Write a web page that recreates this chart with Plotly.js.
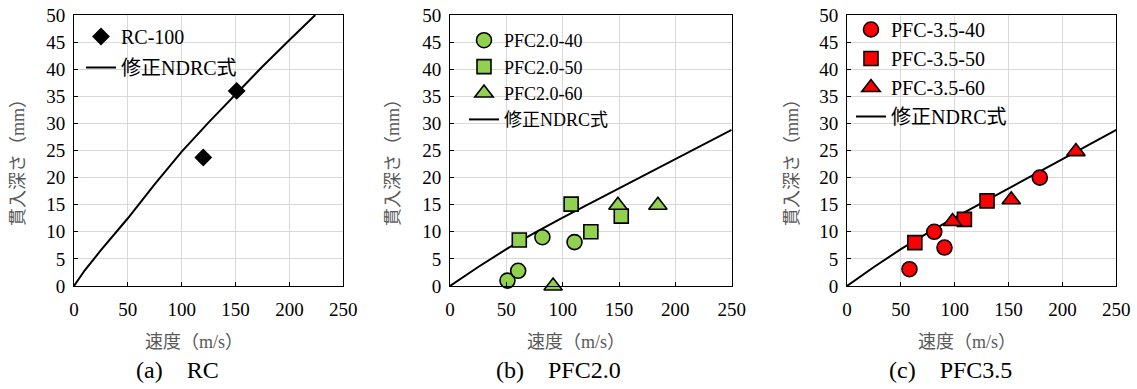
<!DOCTYPE html>
<html>
<head>
<meta charset="utf-8">
<script src="https://cdn.plot.ly/plotly-3.0.1.min.js"></script>
<style>html,body{margin:0;padding:0;background:#fff;}#chart{width:1137px;height:389px;}</style>
</head>
<body>
<div id="chart"></div>
<script>
// ---- data ----
// Panel (a) RC
var rc100_v = [120, 151];
var rc100_d = [23.7, 36.0];
var ndrcA_v = [0, 10, 25, 50, 75, 100, 125, 150, 175, 200, 224];
var ndrcA_d = [0, 2.9, 6.6, 12.5, 18.8, 24.8, 30.2, 35.3, 40.5, 45.4, 50];

// Panel (b) PFC2.0
var pfc20_40_v = [51, 60.5, 82, 110.5];
var pfc20_40_d = [1.0, 2.8, 9.0, 8.1];
var pfc20_50_v = [61.5, 107.5, 125, 152];
var pfc20_50_d = [8.5, 15.1, 10.0, 12.9];
var pfc20_60_v = [91.5, 149, 184.5];
var pfc20_60_d = [0, 14.9, 14.9];

// Panel (c) PFC3.5
var pfc35_40_v = [58, 81, 90.5, 179];
var pfc35_40_d = [3.1, 10.0, 7.1, 20.0];
var pfc35_50_v = [63, 109, 130];
var pfc35_50_d = [8.0, 12.3, 15.7];
var pfc35_60_v = [98, 152.5, 212.5];
var pfc35_60_d = [11.9, 15.9, 24.8];

// modified NDRC curve for PFC panels
var ndrcP_v = [0, 25, 50, 75, 100, 125, 150, 175, 200, 225, 250];
var ndrcP_d = [0, 3.5, 6.8, 9.8, 12.6, 15.3, 18.0, 20.7, 23.4, 26.1, 28.8];

var xTicks = [0, 50, 100, 150, 200, 250];
var yTicks = [0, 5, 10, 15, 20, 25, 30, 35, 40, 45, 50];
var lineName = '修正NDRC式';
var xTitle = '速度（m/s）';
var yTitle = '貫入深さ（mm）';
var captions = ['(a)\u3000RC', '(b)\u3000PFC2.0', '(c)\u3000PFC3.5'];

// ---- styling ----
var W = 1137, H = 389;
var FONT = "Liberation Serif, Noto Sans CJK JP, serif";
var green = '#92D050', red = '#FF0000';
var plotTop = 15, plotBot = 286;
var px = [[74, 343.3], [450, 731.7], [847, 1116.3]];

function xd(p) { return [p[0] / W, p[1] / W]; }
var yDom = [1 - plotBot / H, 1 - plotTop / H];

function mk(x, y, name, sym, size, color, xa, ya, leg, grp, rank) {
  return {
    x: x, y: y, name: name, type: 'scatter', mode: 'markers',
    xaxis: xa, yaxis: ya, legend: leg, legendgroup: grp, legendrank: rank, cliponaxis: false,
    marker: {symbol: sym, size: size, color: color, line: {color: '#000', width: 1.6}}
  };
}
function ln(x, y, xa, ya, leg, grp, rank) {
  return {
    x: x, y: y, name: lineName, type: 'scatter', mode: 'lines',
    xaxis: xa, yaxis: ya, legend: leg, legendgroup: grp, legendrank: rank,
    line: {color: '#000', width: 2}
  };
}

var traces = [
  mk(rc100_v, rc100_d, 'RC-100', 'diamond', 12, '#000', 'x', 'y', 'legend', 'a1', 1),
  ln(ndrcA_v, ndrcA_d, 'x', 'y', 'legend', 'a2', 2),

  ln(ndrcP_v, ndrcP_d, 'x2', 'y2', 'legend2', 'b4', 4),
  mk(pfc20_40_v, pfc20_40_d, 'PFC2.0-40', 'circle', 15, green, 'x2', 'y2', 'legend2', 'b1', 1),
  mk(pfc20_50_v, pfc20_50_d, 'PFC2.0-50', 'square', 14, green, 'x2', 'y2', 'legend2', 'b2', 2),
  mk(pfc20_60_v, pfc20_60_d, 'PFC2.0-60', 'triangle-up', 16, green, 'x2', 'y2', 'legend2', 'b3', 3),

  ln(ndrcP_v, ndrcP_d, 'x3', 'y3', 'legend3', 'c4', 4),
  mk(pfc35_40_v, pfc35_40_d, 'PFC-3.5-40', 'circle', 15, red, 'x3', 'y3', 'legend3', 'c1', 1),
  mk(pfc35_50_v, pfc35_50_d, 'PFC-3.5-50', 'square', 14, red, 'x3', 'y3', 'legend3', 'c2', 2),
  mk(pfc35_60_v, pfc35_60_d, 'PFC-3.5-60', 'triangle-up', 16, red, 'x3', 'y3', 'legend3', 'c3', 3)
];

function xax(i) {
  return {
    domain: xd(px[i]), range: [0, 250], anchor: i === 0 ? 'y' : 'y' + (i + 1),
    tickvals: xTicks, ticks: 'inside', ticklen: 4, tickcolor: '#000',
    showline: true, linecolor: '#000', linewidth: 1, mirror: true,
    showgrid: true, gridcolor: '#D9D9D9', gridwidth: 1, zeroline: false,
    tickfont: {family: FONT, size: 19, color: '#000'}, ticklabelstandoff: 6,
    fixedrange: true
  };
}
function yax(i) {
  return {
    domain: yDom, range: [0, 50], anchor: i === 0 ? 'x' : 'x' + (i + 1),
    tickvals: yTicks, ticks: 'inside', ticklen: 4, tickcolor: '#000',
    showline: true, linecolor: '#000', linewidth: 1, mirror: true,
    showgrid: true, gridcolor: '#D9D9D9', gridwidth: 1, zeroline: false,
    tickfont: {family: FONT, size: 19, color: '#000'}, ticklabelstandoff: 4,
    fixedrange: true
  };
}
function legendAt(left, top, gap, fs) {
  return {
    x: left / W, y: 1 - top / H, xanchor: 'left', yanchor: 'top',
    bgcolor: 'rgba(0,0,0,0)', borderwidth: 0,
    font: {family: FONT, size: fs, color: '#000'},
    traceorder: 'grouped', tracegroupgap: gap, itemwidth: 30
  };
}

var annotations = [];
var xTitleCx = [194, 576, 967];
var yTitleX = [18, 393, 792];
var capCx = [177, 558, 950];
for (var i = 0; i < 3; i++) {
  annotations.push({
    xref: 'paper', yref: 'paper', x: xTitleCx[i] / W, y: 1 - 342 / H,
    xanchor: 'center', yanchor: 'middle', showarrow: false, text: xTitle,
    font: {family: FONT, size: 18, color: '#595959'}
  });
  annotations.push({
    xref: 'paper', yref: 'paper', x: yTitleX[i] / W, y: 1 - 158 / H,
    xanchor: 'center', yanchor: 'middle', showarrow: false, text: yTitle, textangle: -90,
    font: {family: FONT, size: 18, color: '#595959'}
  });
  annotations.push({
    xref: 'paper', yref: 'paper', x: capCx[i] / W, y: 1 - 370 / H,
    xanchor: 'center', yanchor: 'middle', showarrow: false, text: captions[i],
    font: {family: FONT, size: 24, color: '#000'}
  });
}

var layout = {
  width: W, height: H, margin: {l: 0, r: 0, t: 0, b: 0},
  paper_bgcolor: '#fff', plot_bgcolor: '#fff', showlegend: true,
  xaxis: xax(0), xaxis2: xax(1), xaxis3: xax(2),
  yaxis: yax(0), yaxis2: yax(1), yaxis3: yax(2),
  legend: legendAt(81, 17, 2, 20),
  legend2: legendAt(464, 22, 0, 18),
  legend3: legendAt(851, 10, 0, 20),
  annotations: annotations
};

Plotly.newPlot('chart', traces, layout, {displayModeBar: false, staticPlot: true});
</script>
</body>
</html>
